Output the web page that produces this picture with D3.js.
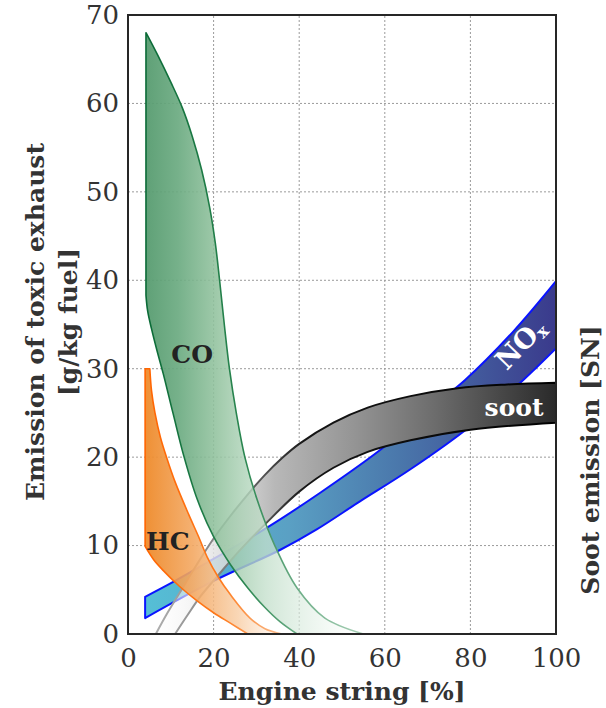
<!DOCTYPE html>
<html>
<head>
<meta charset="utf-8">
<script src="https://cdn.jsdelivr.net/npm/d3@7"></script>
<style>
  body { margin: 0; background: #fff; }
  svg { display: block; }
  text { font-family: "DejaVu Serif", serif; }
</style>
</head>
<body>
<div id="chart"></div>
<script>
const xTicks = [0, 20, 40, 60, 80, 100]
const yTicks = [0, 10, 20, 30, 40, 50, 60, 70]
const xGrid = [20, 40, 60, 80]
const yGrid = [10, 20, 30, 40, 50, 60]

// band edges: [engine string %, emission]
const coUpper = [[4.2, 68], [7, 65.4], [10, 62.4], [12.7, 59.5], [15, 56.3], [17.2, 52.5], [19.1, 48.2], [20.4, 44.2], [21.4, 40], [22.5, 35], [23.7, 30], [25.3, 25], [27.3, 20], [30.3, 15], [34.3, 10], [39.5, 5.2], [46, 1.8], [55, 0]]
const coLower = [[4.2, 38.3], [4.6, 36.5], [5.5, 34.5], [6.8, 32], [8.2, 29.5], [10.5, 25], [13, 20.2], [16.2, 15.2], [20, 11], [24, 7.8], [28, 5.2], [32, 3], [35.5, 1.4], [39.5, 0]]
const hcUpper = [[4, 30], [5.1, 30], [5.5, 27.5], [6.3, 25], [7.6, 22.2], [9, 20], [11, 17.2], [14.2, 13.5], [16.5, 11], [18.5, 8.7], [21, 6.5], [24, 4.4], [28.5, 1.8], [32, 0.6], [36, 0]]
const hcLower = [[4, 9.9], [6, 8.4], [8.2, 7.2], [12, 5.4], [16, 3.8], [20, 2.4], [24, 1.2], [28, 0]]
const noxUpper = [[4, 4.2], [11, 6], [20, 8.5], [32.4, 12], [45, 16], [58.9, 20.8], [70, 25.3], [78.7, 28.7], [90, 34.2], [100, 39.9]]
const noxLower = [[4, 1.8], [20, 6], [35.5, 9.5], [44, 11.8], [54.2, 15], [65.9, 18.6], [80, 23.5], [92.3, 28.7], [100, 32.3]]
const sootUpper = [[6.5, 0], [9, 2.2], [12, 4.6], [16, 7.8], [20, 10.8], [24, 13.4], [28, 15.8], [32, 18], [36, 19.9], [40, 21.5], [48, 23.9], [56, 25.6], [66, 26.9], [77, 27.8], [88, 28.2], [100, 28.4]]
const sootLower = [[11, 0], [14, 2.2], [17, 4.3], [21, 6.6], [26, 9.4], [32, 12.4], [40, 16.1], [48, 18.8], [56, 20.6], [66, 21.9], [80, 23.1], [100, 23.9]]

class EmissionChart {

  constructor({width, height, margin}) {
    this.width = width
    this.height = height
    this.margin = margin

    this.x = d3.scaleLinear().domain([0, 100]).range([margin.left, width - margin.right])
    this.y = d3.scaleLinear().domain([0, 70]).range([height - margin.bottom, margin.top])
    this.edge = d3.line()
      .x(d => this.x(d[0]))
      .y(d => this.y(d[1]))
      .curve(d3.curveCatmullRom.alpha(0.5))

    this.svg = this.createSVG()
    this.defs = this.svg.append("defs")
    this.addGrid()
    this.addBands()
    this.addFrame()
    this.addAxes()
    this.addLabels()
  }

  createSVG() {
    return d3.select("#chart")
      .append("svg")
      .attr("width", this.width)
      .attr("height", this.height)
  }

  gradient(id, from, to, stops) {
    const g = this.defs.append("linearGradient")
      .attr("id", id)
      .attr("gradientUnits", "userSpaceOnUse")
      .attr("x1", this.x(from)).attr("x2", this.x(to))
      .attr("y1", 0).attr("y2", 0)
    g.selectAll("stop")
      .data(stops)
      .enter()
      .append("stop")
      .attr("offset", d => d[0])
      .attr("stop-color", d => d[1])
      .attr("stop-opacity", d => d[2] == null ? 1 : d[2])
    return `url(#${id})`
  }

  // upper edge left to right, lower edge back; a flat cap keeps its corner sharp
  bandPath(upper, lower, flatCap) {
    let head = this.edge(upper)
    if (flatCap) {
      const [p0, p1] = upper
      head = `M${this.x(p0[0])},${this.y(p0[1])}` + this.edge(upper.slice(1)).replace(/^M/, "L")
    }
    return head + this.edge(lower.slice().reverse()).replace(/^M/, "L") + "Z"
  }

  addGrid() {
    const g = this.svg.append("g")
      .attr("stroke", "#9a9a9a")
      .attr("stroke-width", 1)
      .attr("stroke-dasharray", "2,2")
    g.selectAll(".vgrid")
      .data(xGrid)
      .enter()
      .append("line")
      .attr("x1", d => this.x(d)).attr("x2", d => this.x(d))
      .attr("y1", this.y(0)).attr("y2", this.y(70))
    g.selectAll(".hgrid")
      .data(yGrid)
      .enter()
      .append("line")
      .attr("x1", this.x(0)).attr("x2", this.x(100))
      .attr("y1", d => this.y(d)).attr("y2", d => this.y(d))
  }

  addBands() {
    this.defs.append("clipPath")
      .attr("id", "plot")
      .append("rect")
      .attr("x", this.x(0)).attr("y", this.y(70))
      .attr("width", this.x(100) - this.x(0))
      .attr("height", this.y(0) - this.y(70))

    const bands = [
      {
        upper: noxUpper, lower: noxLower,
        fill: this.gradient("noxFill", 4, 100, [[0, "#55bfd6"], [0.35, "#5aa0c4"], [0.62, "#4a77ab"], [1, "#3a3a8c"]]),
        stroke: "#0a14ff", width: 2
      },
      {
        upper: sootUpper, lower: sootLower,
        fill: this.gradient("sootFill", 6, 100, [[0, "#ffffff", 0.3], [0.12, "#ececec", 0.8], [0.3, "#b8b8b8"], [0.5, "#949494"], [0.7, "#6c6c6c"], [0.86, "#484848"], [1, "#2a2a2a"]]),
        stroke: this.gradient("sootLine", 6, 100, [[0, "#b0b0b0"], [0.22, "#707070"], [0.38, "#151515"], [1, "#000000"]]),
        width: 2
      },
      {
        upper: hcUpper, lower: hcLower, flatCap: true,
        fill: this.gradient("hcFill", 4, 36, [[0, "#ee8a2a", 0.95], [0.35, "#f3a862", 0.9], [0.68, "#f8cda4", 0.8], [1, "#fff3ea", 0.5]]),
        stroke: this.gradient("hcLine", 4, 36, [[0, "#ff6400"], [0.55, "#ff7a1c"], [1, "#f8bc8e"]]),
        width: 1.6
      },
      {
        upper: coUpper, lower: coLower,
        fill: this.gradient("coFill", 4, 55, [[0, "#569b6f", 0.95], [0.15, "#6aaa80", 0.92], [0.33, "#93c39f", 0.88], [0.55, "#c3dfcb", 0.78], [0.8, "#e6f2e9", 0.6], [1, "#ffffff", 0.3]]),
        stroke: this.gradient("coLine", 4, 55, [[0, "#0a6a36"], [0.45, "#2a8650"], [0.75, "#78b490"], [1, "#a9d0b7"]]),
        width: 1.6
      }
    ]

    this.svg.append("g")
      .attr("clip-path", "url(#plot)")
      .selectAll("path")
      .data(bands)
      .enter()
      .append("path")
      .attr("d", d => this.bandPath(d.upper, d.lower, d.flatCap))
      .attr("fill", d => d.fill)
      .attr("stroke", d => d.stroke)
      .attr("stroke-width", d => d.width)
      .attr("stroke-linejoin", "round")
  }

  addFrame() {
    this.svg.append("rect")
      .attr("x", this.x(0)).attr("y", this.y(70))
      .attr("width", this.x(100) - this.x(0))
      .attr("height", this.y(0) - this.y(70))
      .attr("fill", "none")
      .attr("stroke", "#262626")
      .attr("stroke-width", 2)
  }

  addAxes() {
    const left = this.svg.append("g")
      .attr("transform", `translate(${this.x(0)},0)`)
      .call(d3.axisLeft(this.y).tickValues(yTicks).tickSize(0).tickPadding(9))
    const bottom = this.svg.append("g")
      .attr("transform", `translate(0,${this.y(0)})`)
      .call(d3.axisBottom(this.x).tickValues(xTicks).tickSize(0).tickPadding(15))

    for (const g of [left, bottom]) {
      g.select(".domain").remove()
      g.selectAll("text")
        .attr("font-family", "DejaVu Serif")
        .attr("font-size", 26)
        .attr("fill", "#333")
    }

    const title = (tx, ty, rot, str) => this.svg.append("text")
      .attr("transform", `translate(${tx},${ty}) rotate(${rot})`)
      .attr("text-anchor", "middle")
      .attr("font-weight", "bold")
      .attr("font-size", 25)
      .attr("fill", "#333")
      .text(str)

    title((this.x(0) + this.x(100)) / 2, 700, 0, "Engine string [%]")
    title(44, 322, -90, "Emission of toxic exhaust")
    title(77, 322, -90, "[g/kg fuel]")
    title(599, 460, -90, "Soot emission [SN]")
  }

  addLabels() {
    const label = (vx, vy, str, color) => this.svg.append("text")
      .attr("x", this.x(vx)).attr("y", this.y(vy))
      .attr("text-anchor", "middle")
      .attr("font-weight", "bold")
      .attr("font-size", 25)
      .attr("fill", color)
      .text(str)

    label(15, 30.6, "CO", "#222")
    label(9.3, 9.5, "HC", "#222")
    label(90.2, 24.7, "soot", "#fff")

    const nox = this.svg.append("text")
      .attr("transform", `translate(${this.x(93.2)},${this.y(32.1)}) rotate(-46)`)
      .attr("text-anchor", "middle")
      .attr("font-weight", "bold")
      .attr("font-size", 27)
      .attr("fill", "#fff")
    nox.append("tspan").text("NO")
    nox.append("tspan").attr("font-size", 17).attr("dy", 4).text("x")
  }

}

new EmissionChart({
  width: 606,
  height: 708,
  margin: {top: 15, right: 50, bottom: 74, left: 128}
})
</script>
</body>
</html>
